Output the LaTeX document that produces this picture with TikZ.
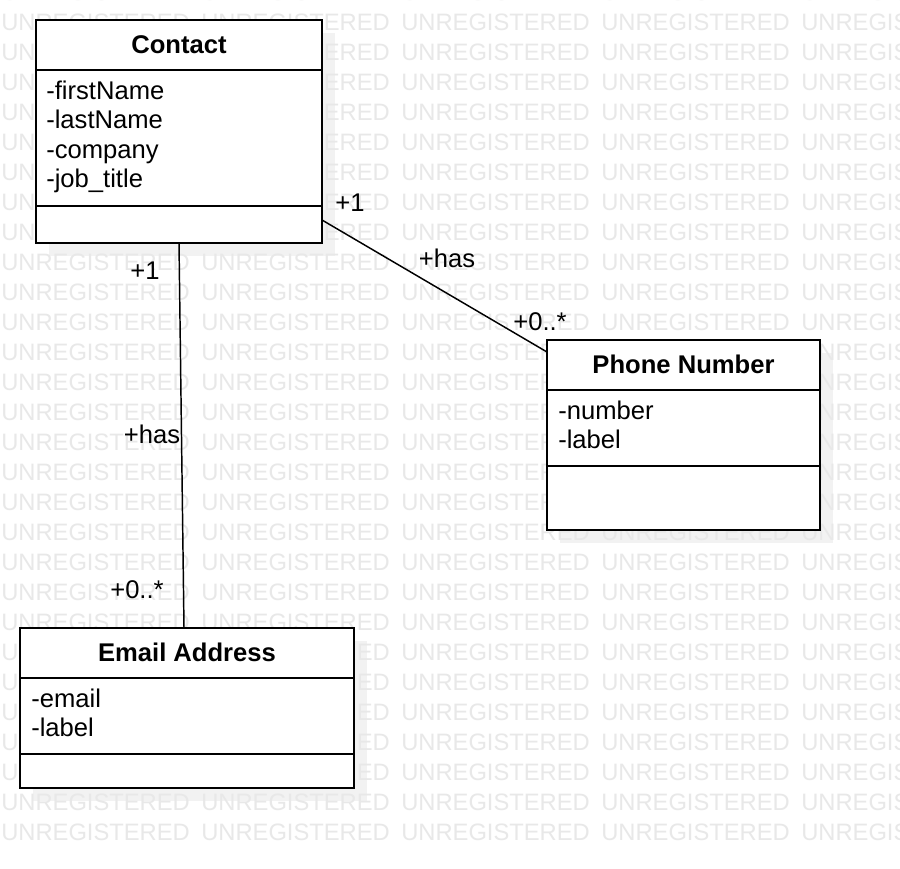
\documentclass[tikz,border=0pt]{standalone}
\usepackage{fontspec}
\setmainfont{Liberation Sans}
\usetikzlibrary{calc}
\definecolor{wmgray}{RGB}{232,232,232}
\definecolor{shadowgray}{RGB}{242,242,242}
\begin{document}
\begin{tikzpicture}[x=0.75pt,y=-0.75pt,
  classbox/.style={draw, line width=1.5pt, fill=white, anchor=north west, inner sep=0pt, outer sep=0pt},
  divider/.style={line width=1.5pt},
  shadowfill/.style={fill=shadowgray, draw=none},
  titletext/.style={font=\fontsize{19.2}{22}\selectfont\bfseries, anchor=base, inner sep=0pt},
  attrtext/.style={font=\fontsize{19.2}{22}\selectfont, anchor=base west, inner sep=0pt},
  roletext/.style={font=\fontsize{19.2}{22}\selectfont, anchor=base, inner sep=0pt},
  wmtext/.style={font=\fontsize{17.8}{20}\selectfont, text=wmgray, anchor=west, inner sep=0pt},
  assoc/.style={line width=1.1pt}]
\useasboundingbox (0,0) rectangle (900,868);
\fill[white] (0,0) rectangle (900,868);
% shadows
\path[shadowfill] (49,33) rectangle (335,256);
\path[shadowfill] (560,353) rectangle (833,543);
\path[shadowfill] (33,641) rectangle (367,801);
% watermark
\begin{scope}
\clip (0,0) rectangle (900,868);
\foreach \r in {0,...,28} \foreach \c in {0,...,4}
  \node[wmtext] (wm-\r-\c) at (1+200*\c, -8+30*\r) {UNREGISTERED};
\end{scope}
% boxes
\node[classbox, minimum width=214.5pt, minimum height=167.25pt] (contact) at (36,20) {};
\node[classbox, minimum width=204.75pt, minimum height=142.5pt] (phone) at (547,340) {};
\node[classbox, minimum width=250.5pt, minimum height=120pt] (email) at (20,628) {};
% dividers
\draw[divider] ($(contact.north west)+(0,50)$) -- ($(contact.north east)+(0,50)$);
\draw[divider] ($(contact.north west)+(0,186)$) -- ($(contact.north east)+(0,186)$);
\draw[divider] ($(phone.north west)+(0,50)$) -- ($(phone.north east)+(0,50)$);
\draw[divider] ($(phone.north west)+(0,126)$) -- ($(phone.north east)+(0,126)$);
\draw[divider] ($(email.north west)+(0,50)$) -- ($(email.north east)+(0,50)$);
\draw[divider] ($(email.north west)+(0,126)$) -- ($(email.north east)+(0,126)$);
% titles
\node[titletext] (contactT) at ($(contact.north)+(0,33)$) {Contact};
\node[titletext] (phoneT) at ($(phone.north)+(0,33)$) {Phone Number};
\node[titletext] (emailT) at ($(email.north)+(0,33)$) {Email Address};
% attributes
\node[attrtext] (ca1) at ($(contact.north west)+(10,79)$) {-firstName};
\node[attrtext] (ca2) at ($(contact.north west)+(10,108.5)$) {-lastName};
\node[attrtext] (ca3) at ($(contact.north west)+(10,138)$) {-company};
\node[attrtext] (ca4) at ($(contact.north west)+(10,167.5)$) {-job\_title};
\node[attrtext] (pa1) at ($(phone.north west)+(11,79)$) {-number};
\node[attrtext] (pa2) at ($(phone.north west)+(11,108.5)$) {-label};
\node[attrtext] (ea1) at ($(email.north west)+(11,79)$) {-email};
\node[attrtext] (ea2) at ($(email.north west)+(11,108.5)$) {-label};
% associations
\draw[assoc] ($(contact.south east)+(0,-23)$) -- ($(phone.north west)+(0,12)$);
\draw[assoc] (contact.south) -- ($(email.north)+(-3,0)$);
% role labels
\node[roletext] (r1) at (350,211) {+1};
\node[roletext] (r2) at (447,267) {+has};
\node[roletext] (r3) at (540,330) {+0..*};
\node[roletext] (r4) at (145,279) {+1};
\node[roletext] (r5) at (152,443) {+has};
\node[roletext] (r6) at (137,598) {+0..*};
\end{tikzpicture}
\end{document}
